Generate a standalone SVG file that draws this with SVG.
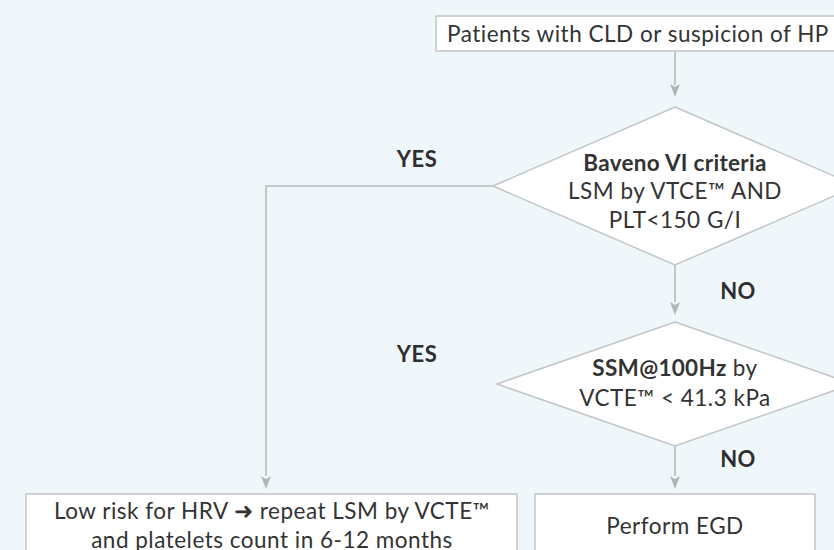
<svg xmlns="http://www.w3.org/2000/svg" width="834" height="550" viewBox="0 0 834 550">
<defs>
<style>
.box{fill:#ffffff;stroke:#c2c5c8;stroke-width:1.5}
.ln{fill:none;stroke:#b8bbbe;stroke-width:1.6}
.ah{fill:#b3b6b9}
.t{font-family:Lato,"Noto Sans","Liberation Sans",sans-serif;font-size:22.5px;letter-spacing:0.5px;fill:#333333;text-anchor:middle}
.b{font-weight:bold;letter-spacing:0.3px}
.lbl{font-family:Lato,"Noto Sans","Liberation Sans",sans-serif;font-size:22px;font-weight:bold;letter-spacing:0.5px;fill:#2e2e2e;text-anchor:middle}
</style>
</defs>
<rect x="0" y="0" width="834" height="550" fill="#eff7fb"/>
<g id="connectors">
<line class="ln" x1="675" y1="51" x2="675" y2="85"/>
<polyline class="ln" points="493,186 266,186 266,476"/>
<line class="ln" x1="675" y1="265" x2="675" y2="302"/>
<line class="ln" x1="675" y1="446" x2="675" y2="476"/>
<path class="ah" d="M670,84 L675,87 L680,84 L675,97 Z"/>
<path class="ah" d="M670,302 L675,305 L680,302 L675,315 Z"/>
<path class="ah" d="M261,476 L266,479 L271,476 L266,489 Z"/>
<path class="ah" d="M670,476 L675,479 L680,476 L675,489 Z"/>
</g>
<g id="labels">
<text class="lbl" x="417" y="167">YES</text>
<text class="lbl" x="738" y="299">NO</text>
<text class="lbl" x="417" y="362">YES</text>
<text class="lbl" x="738" y="467">NO</text>
</g>
<g id="start">
<rect class="box" x="436" y="16" width="420" height="35"/>
<text class="t" x="447" y="42" style="text-anchor:start">Patients with CLD or suspicion of HP</text>
</g>
<g id="baveno">
<polygon class="box" points="675,107 857,186 675,265 493,186"/>
<text class="t b" x="675" y="171">Baveno VI criteria</text>
<text class="t" x="675" y="199">LSM by VTCE™ AND</text>
<text class="t" x="675" y="228">PLT&lt;150 G/I</text>
</g>
<g id="ssm">
<polygon class="box" points="675,322 853,384 675,446 497,384"/>
<text class="t" x="675" y="376"><tspan class="b">SSM@100Hz</tspan> by</text>
<text class="t" x="675" y="406">VCTE™ &lt; 41.3 kPa</text>
</g>
<g id="lowrisk">
<rect class="box" x="26" y="494" width="491" height="70"/>
<text class="t" x="272" y="519">Low risk for HRV ➜ repeat LSM by VCTE™</text>
<text class="t" x="272" y="548">and platelets count in 6-12 months</text>
</g>
<g id="egd">
<rect class="box" x="535" y="494" width="280" height="70"/>
<text class="t" x="675" y="534">Perform EGD</text>
</g>
</svg>
